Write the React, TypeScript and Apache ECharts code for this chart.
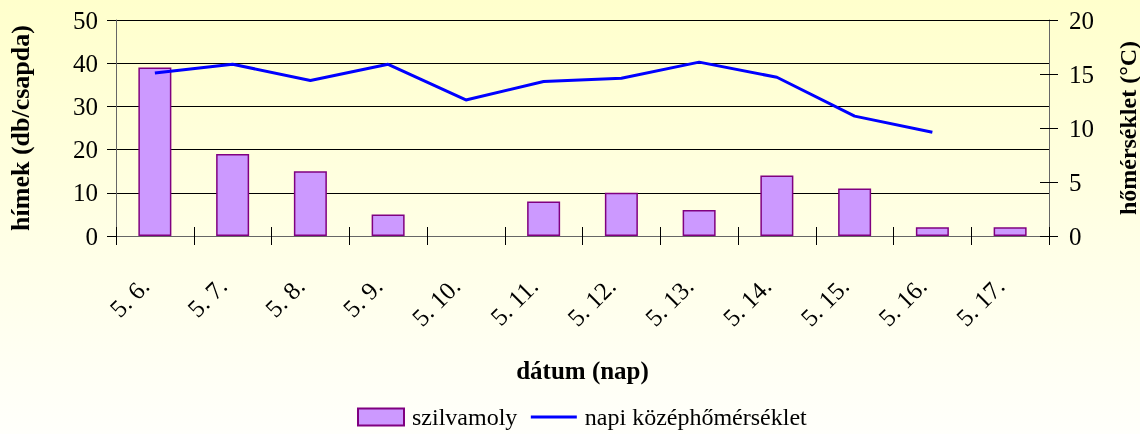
import React, { useEffect, useRef } from "react";
import * as echarts from "echarts";

const categories = ["5. 6.", "5. 7.", "5. 8.", "5. 9.", "5. 10.", "5. 11.", "5. 12.", "5. 13.", "5. 14.", "5. 15.", "5. 16.", "5. 17."];
const mothCounts = [39, 19, 15, 5, 0, 8, 10, 6, 14, 11, 2, 2];
const meanTemps: (number | null)[] = [15.1, 15.9, 14.4, 15.9, 12.6, 14.3, 14.6, 16.1, 14.7, 11.1, 9.6, null];

const FONT = "Liberation Serif";

export default function App() {
  const ref = useRef<HTMLDivElement>(null);
  useEffect(() => {
    if (!ref.current) return;
    const chart = echarts.init(ref.current, undefined, { renderer: "svg" });
    const tickStyle = { color: "#000", width: 1 };
    chart.setOption({
      animation: false,
      textStyle: { fontFamily: FONT },
      graphic: [
        {
          type: "rect",
          z: -100,
          silent: true,
          shape: { x: 0, y: 0, width: 1140, height: 434 },
          style: {
            fill: new echarts.graphic.LinearGradient(0, 0, 0, 1, [
              { offset: 0, color: "#FFFFCC" },
              { offset: 1, color: "#FFFFFB" },
            ]),
          },
        },
      ],
      grid: { left: 116, right: 91, top: 20, bottom: 198, outerBoundsMode: "none", containLabel: false },
      legend: {
        left: 357,
        top: 405,
        padding: 0,
        itemWidth: 46,
        itemHeight: 17,
        itemGap: 12,
        textStyle: { fontFamily: FONT, fontSize: 24, color: "#000", padding: [0, 0, 0, 3] },
        data: [
          { name: "szilvamoly", icon: "rect" },
          { name: "napi középhőmérséklet", itemStyle: { opacity: 0 }, lineStyle: { width: 3, color: "#0000FF" } },
        ],
      },
      xAxis: [
        {
          type: "category",
          data: categories,
          position: "bottom",
          axisLine: { lineStyle: { color: "#666", width: 1 } },
          axisTick: { show: true, inside: false, length: 9, lineStyle: tickStyle },
          axisLabel: { rotate: 45, fontSize: 25, color: "#000", fontFamily: FONT, margin: 36, interval: 0, padding: [0, 14, 0, 0] },
          name: "dátum (nap)",
          nameLocation: "middle",
          nameGap: 122,
          nameTextStyle: { fontSize: 25, fontWeight: "bold", color: "#000", fontFamily: FONT },
        },
        {
          type: "category",
          data: categories,
          position: "bottom",
          gridIndex: 0,
          axisLine: { show: false },
          axisTick: { show: true, inside: true, length: 9, lineStyle: tickStyle },
          axisLabel: { show: false },
        },
      ],
      yAxis: [
        {
          type: "value",
          min: 0, max: 50, interval: 10,
          position: "left",
          axisLine: { show: true, lineStyle: { color: "#666", width: 1 } },
          axisTick: { show: true, length: 9, lineStyle: tickStyle },
          splitLine: { show: true, lineStyle: { color: "#000", width: 1 } },
          axisLabel: { fontSize: 25, color: "#000", fontFamily: FONT, margin: 18 },
          name: "hímek (db/csapda)",
          nameLocation: "middle",
          nameGap: 83,
          nameRotate: 90,
          nameTextStyle: { fontSize: 26, fontWeight: "bold", color: "#000", fontFamily: FONT },
        },
        {
          type: "value",
          min: 0, max: 20, interval: 5,
          position: "right",
          axisLine: { show: true, lineStyle: { color: "#666", width: 1 } },
          axisTick: { show: true, length: 9, lineStyle: tickStyle },
          splitLine: { show: false },
          axisLabel: { fontSize: 25, color: "#000", fontFamily: FONT, margin: 20 },
          name: "hőmérséklet (°C)",
          nameLocation: "middle",
          nameGap: 67,
          nameRotate: 90,
          nameTextStyle: { fontSize: 24, fontWeight: "bold", color: "#000", fontFamily: FONT },
        },
        {
          type: "value",
          min: 0, max: 20, interval: 5,
          position: "right",
          axisLine: { show: false },
          axisTick: { show: true, inside: true, length: 9, lineStyle: tickStyle },
          splitLine: { show: false },
          axisLabel: { show: false },
        },
      ],
      series: [
        {
          name: "szilvamoly",
          type: "bar",
          xAxisIndex: 0,
          yAxisIndex: 0,
          data: mothCounts.map((v) => (v === 0 ? { value: v, itemStyle: { borderWidth: 0 } } : v)),
          barWidth: 33,
          itemStyle: { color: "#CC99FF", borderColor: "#800080", borderWidth: 1.5 },
        },
        {
          name: "napi középhőmérséklet",
          type: "line",
          xAxisIndex: 0,
          yAxisIndex: 1,
          data: meanTemps,
          symbol: "none",
          lineStyle: { color: "#0000FF", width: 3 },
          itemStyle: { color: "#0000FF" },
          z: 5,
        },
      ],
    });
    return () => chart.dispose();
  }, []);
  return <div ref={ref} style={{ position: "fixed", left: 0, top: 0, width: 1140, height: 434 }} />;
}
